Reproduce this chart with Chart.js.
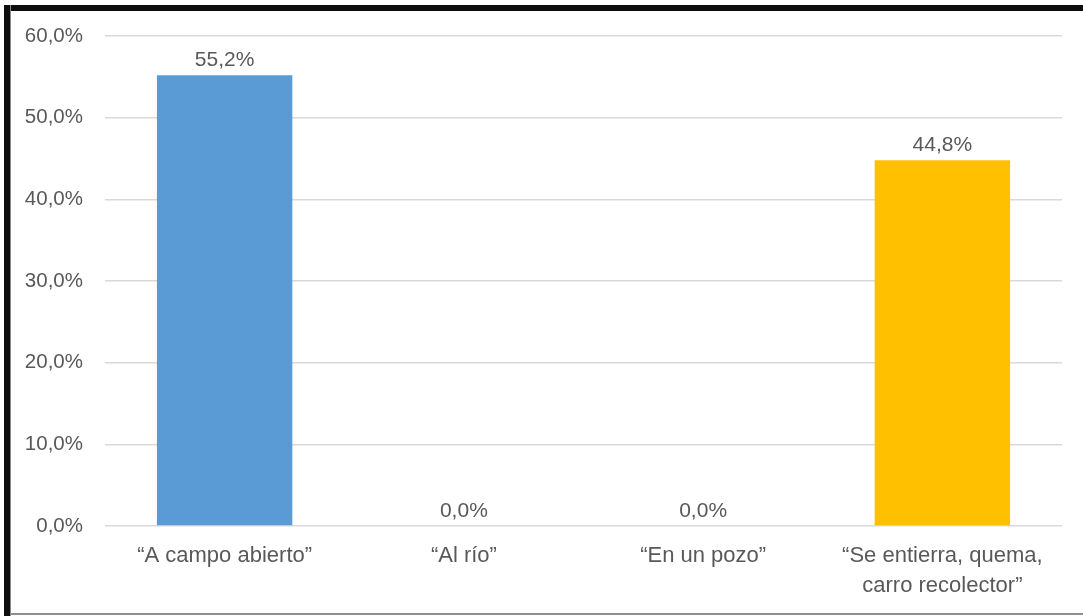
<!DOCTYPE html>
<html>
<head>
<meta charset="utf-8">
<title>Disposición de residuos</title>
<script src="https://cdn.jsdelivr.net/npm/chart.js@4.4.1/dist/chart.umd.min.js"></script>
<style>
    html, body { margin: 0; padding: 0; background: #ffffff; }
    #chartWrap { position: relative; width: 1083px; height: 616px; overflow: hidden; }
    #chartCanvas { position: absolute; left: 0; top: 0; }
    .frameTop { position: absolute; left: 4px; top: 5px; width: 1079px; height: 6px; background: #0d0d0d; }
    .frameLeft { position: absolute; left: 4px; top: 5px; width: 6px; height: 611px; background: #0d0d0d; border-right: 1px solid #8a8a8a; }
    .frameBottom { position: absolute; left: 10px; top: 613px; width: 1073px; height: 2px; background: #8f8f8f; }
</style>
</head>
<body>
<div id="chartWrap">
    <canvas id="chartCanvas" width="1083" height="616"></canvas>
    <div class="frameTop"></div>
    <div class="frameLeft"></div>
    <div class="frameBottom"></div>
</div>
<script>
var Categorias = [
    "\u201CA campo abierto\u201D",
    "\u201CAl r\u00EDo\u201D",
    "\u201CEn un pozo\u201D",
    ["\u201CSe entierra, quema,", "carro recolector\u201D"]
];
var Porcentajes = [55.2, 0.0, 0.0, 44.8];
var ColoresBarra = ["#5B9BD5", "#ED7D31", "#A5A5A5", "#FFC000"];
var TicksEjeY = [0, 10, 20, 30, 40, 50, 60];

var FuenteTexto = "'Liberation Sans', Arial, sans-serif";
var ColorTexto = "#595959";

function FormatoPct(valor) {
    return valor.toFixed(1).replace('.', ',') + '%';
}

// etiquetas de valor encima de cada barra
var EtiquetasValor = {
    id: 'etiquetasValor',
    afterDatasetsDraw: function (chart) {
        var ctx = chart.ctx;
        var meta = chart.getDatasetMeta(0);
        ctx.save();
        ctx.font = "21px " + FuenteTexto;
        ctx.fillStyle = ColorTexto;
        ctx.textAlign = 'center';
        ctx.textBaseline = 'bottom';
        meta.data.forEach(function (barra, i) {
            ctx.fillText(FormatoPct(Porcentajes[i]), barra.x, barra.y - 4);
        });
        ctx.restore();
    }
};

var ctx = document.getElementById('chartCanvas');
var myChart = new Chart(ctx, {
    type: 'bar',
    data: {
        labels: Categorias,
        datasets: [{
            data: Porcentajes,
            backgroundColor: ColoresBarra,
            borderWidth: 0,
            categoryPercentage: 1,
            barPercentage: 0.566
        }]
    },
    options: {
        responsive: false,
        animation: false,
        layout: {
            padding: { left: 10, top: 36, right: 21, bottom: 0 }
        },
        plugins: {
            legend: { display: false },
            tooltip: { enabled: false }
        },
        scales: {
            x: {
                grid: { display: false, drawTicks: false },
                border: { display: false },
                ticks: {
                    color: ColorTexto,
                    font: { family: FuenteTexto, size: 22, lineHeight: 1.36 },
                    padding: 15,
                    maxRotation: 0,
                    autoSkip: false
                },
                afterFit: function (scale) {
                    scale.height = 616 - 526;
                }
            },
            y: {
                min: 0,
                max: 60,
                afterBuildTicks: function (scale) {
                    scale.ticks = TicksEjeY.map(function (v) { return { value: v }; });
                },
                grid: { color: '#d9d9d9', lineWidth: 1.5, drawTicks: false },
                border: { display: false },
                ticks: {
                    color: ColorTexto,
                    font: { family: FuenteTexto, size: 20.5 },
                    padding: 22,
                    callback: function (value) {
                        return FormatoPct(value);
                    }
                },
                afterFit: function (scale) {
                    scale.width = 105 - 10;
                }
            }
        }
    },
    plugins: [EtiquetasValor]
});
</script>
</body>
</html>
